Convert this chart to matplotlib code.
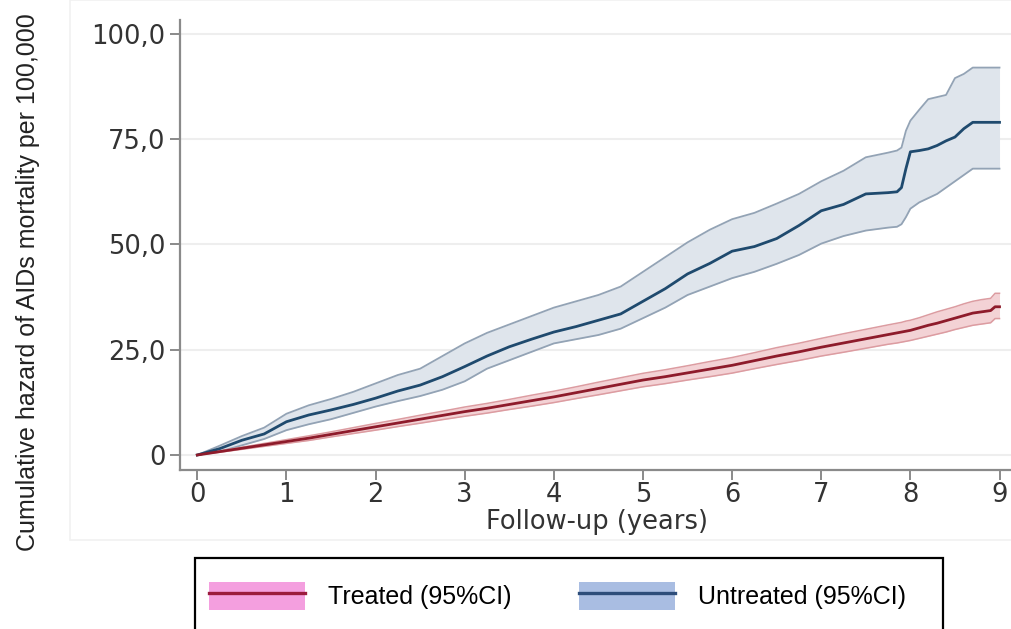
import matplotlib
matplotlib.use("Agg")
import matplotlib.pyplot as plt
from matplotlib.patches import Patch, Rectangle
from matplotlib.lines import Line2D
from matplotlib.legend_handler import HandlerTuple
from matplotlib.ticker import FuncFormatter

plt.rcParams["font.family"] = ["DejaVu Sans"]

# ---------------- data ----------------
years = [0, 0.25, 0.5, 0.75, 1, 1.25, 1.5, 1.75, 2, 2.25, 2.5, 2.75, 3, 3.25, 3.5, 3.75,
         4, 4.25, 4.5, 4.75, 5, 5.25, 5.5, 5.75, 6, 6.25, 6.5, 6.75, 7, 7.25, 7.5, 7.75,
         7.85, 7.9, 7.95, 8.0, 8.1, 8.2, 8.3, 8.4, 8.5, 8.6, 8.7, 8.8, 8.9, 8.95, 9.0]

untreated = [0, 1.5, 3.5, 5.0, 7.9, 9.5, 10.7, 12.0, 13.5, 15.2, 16.6, 18.6, 21.0, 23.5, 25.7, 27.5,
             29.2, 30.5, 32.0, 33.5, 36.5, 39.5, 43.0, 45.5, 48.4, 49.5, 51.4, 54.5, 58.0, 59.5, 62.0, 62.3,
             62.5, 63.5, 68.0, 72.0, 72.3, 72.7, 73.5, 74.6, 75.5, 77.5, 79.0, 79.0, 79.0, 79.0, 79.0]
untreated_hi = [0, 2.2, 4.5, 6.5, 9.8, 11.8, 13.3, 15.0, 17.0, 19.0, 20.5, 23.5, 26.5, 29.0, 31.0, 33.0,
                35.0, 36.5, 38.0, 40.0, 43.5, 47.0, 50.5, 53.5, 56.0, 57.5, 59.7, 62.0, 65.0, 67.5, 70.7, 71.8,
                72.3, 73.0, 77.0, 79.4, 82.0, 84.5, 85.0, 85.5, 89.5, 90.5, 92.0, 92.0, 92.0, 92.0, 92.0]
untreated_lo = [0, 0.8, 2.3, 3.8, 5.9, 7.3, 8.5, 10.0, 11.5, 12.8, 14.0, 15.5, 17.5, 20.5, 22.5, 24.5,
                26.5, 27.5, 28.5, 30.0, 32.5, 35.0, 38.0, 40.0, 42.0, 43.5, 45.4, 47.5, 50.2, 52.0, 53.3, 54.0,
                54.2, 54.8, 56.5, 58.5, 60.0, 61.0, 62.0, 63.5, 65.0, 66.5, 68.0, 68.0, 68.0, 68.0, 68.0]

treated = [0, 0.8, 1.6, 2.4, 3.2, 4.0, 4.9, 5.8, 6.7, 7.6, 8.5, 9.4, 10.3, 11.1, 12.0, 12.9,
           13.8, 14.8, 15.8, 16.8, 17.8, 18.6, 19.5, 20.4, 21.3, 22.4, 23.5, 24.5, 25.6, 26.6, 27.6, 28.6,
           29.0, 29.2, 29.4, 29.6, 30.2, 30.8, 31.3, 31.9, 32.5, 33.1, 33.7, 34.0, 34.3, 35.2, 35.2]
treated_hi = [0, 0.95, 1.85, 2.75, 3.65, 4.55, 5.5, 6.5, 7.5, 8.45, 9.45, 10.4, 11.4, 12.25, 13.2, 14.2,
              15.15, 16.2, 17.3, 18.35, 19.4, 20.25, 21.2, 22.2, 23.15, 24.3, 25.5, 26.55, 27.7, 28.8, 29.85, 30.9,
              31.3, 31.5, 31.8, 32.0, 32.6, 33.3, 34.0, 34.6, 35.2, 35.9, 36.5, 36.9, 37.2, 38.4, 38.4]
treated_lo = [0, 0.65, 1.35, 2.05, 2.75, 3.45, 4.3, 5.1, 5.9, 6.75, 7.55, 8.4, 9.2, 9.95, 10.8, 11.6,
              12.45, 13.4, 14.3, 15.25, 16.2, 16.95, 17.8, 18.6, 19.45, 20.5, 21.5, 22.45, 23.5, 24.4, 25.35, 26.3,
              26.6, 26.8, 27.0, 27.2, 27.7, 28.2, 28.7, 29.2, 29.8, 30.3, 30.8, 31.1, 31.4, 32.4, 32.4]

x_ticks = [0, 1, 2, 3, 4, 5, 6, 7, 8, 9]
y_ticks = [0, 25, 50, 75, 100]
labels = ["Treated (95%CI)", "Untreated (95%CI)"]

# ---------------- styles ----------------
W, H = 1012, 629
fig = plt.figure(figsize=(W / 100, H / 100), dpi=100)
fig.patch.set_facecolor("white")

# faint outer panel border
fig.add_artist(Rectangle((70 / W, 1 - 540 / H), (W - 70) / W, 540 / H,
                         transform=fig.transFigure, facecolor="none",
                         edgecolor="#f1f1f1", linewidth=1.2, zorder=0))

ax = fig.add_axes([180 / W, 1 - 470 / H, (W - 180) / W, (470 - 20) / H])
ax.set_xlim(-0.194, 9.14)
ax.set_ylim(-3.56, 103.3)

for s in ["top", "right"]:
    ax.spines[s].set_visible(False)
for s in ["left", "bottom"]:
    ax.spines[s].set_color("#8a8a8a")
    ax.spines[s].set_linewidth(1.6)

ax.set_yticks(y_ticks)
ax.set_xticks(x_ticks)
ax.yaxis.set_major_formatter(FuncFormatter(lambda v, p: "0" if v == 0 else f"{v:.1f}".replace(".", ",")))
ax.tick_params(axis="both", colors="#8a8a8a", labelcolor="#333333", length=7, width=1.4,
               labelsize=18.5)
ax.tick_params(axis="x", pad=2)
ax.grid(axis="y", color="#eeeeee", linewidth=1.5)
ax.set_axisbelow(True)

# untreated band
ax.fill_between(years, untreated_lo, untreated_hi, color="#dfe5ec", zorder=2, linewidth=0)
ax.plot(years, untreated_hi, color="#93a3b5", lw=1.3, zorder=3)
ax.plot(years, untreated_lo, color="#93a3b5", lw=1.3, zorder=3)
# treated band
ax.fill_between(years, treated_lo, treated_hi, color="#f3d2d5", zorder=2, linewidth=0)
ax.plot(years, treated_hi, color="#dc9ca1", lw=1.1, zorder=3)
ax.plot(years, treated_lo, color="#dc9ca1", lw=1.1, zorder=3)
# estimates
ax.plot(years, untreated, color="#1f4a6e", lw=2.0, zorder=4)
ax.plot(years, treated, color="#8e1b2b", lw=2.0, zorder=4)

ax.set_xlabel("Follow-up (years)", fontsize=18.5, color="#333333")
ax.xaxis.set_label_coords((597 - 180) / (W - 180), -0.115)
ax.xaxis.label.set_va("center")

fig.text(28 / W, 1 - 282 / H, "Cumulative hazard of AIDs mortality per 100,000",
         rotation=90, ha="center", va="center", fontsize=18,
         family="Liberation Sans", color="#222222")

# legend frame (bottom edge outside the image)
fig.add_artist(Rectangle((195 / W, -0.05), (943 - 195) / W, 0.05 + (629 - 558) / H,
                         transform=fig.transFigure, facecolor="white",
                         edgecolor="black", linewidth=1.6, zorder=5))

h_tr = (Patch(facecolor="#f49fdf", edgecolor="none"), Line2D([], [], color="#9b1b3d", lw=2.4))
h_un = (Patch(facecolor="#a9bde2", edgecolor="none"), Line2D([], [], color="#2d4d7a", lw=2.4))
leg = fig.legend([h_tr, h_un], labels, handler_map={tuple: HandlerTuple(ndivide=1, pad=0)},
                 loc="center left", bbox_to_anchor=(209 / W, 1 - 596 / H), ncol=2,
                 frameon=False, prop={"family": "Liberation Sans", "size": 18},
                 borderpad=0, borderaxespad=0,
                 handlelength=3.84, handleheight=1.35, handletextpad=0.92, columnspacing=2.68)
leg.set_zorder(6)

fig.savefig("out.png", dpi=100, facecolor="white")
